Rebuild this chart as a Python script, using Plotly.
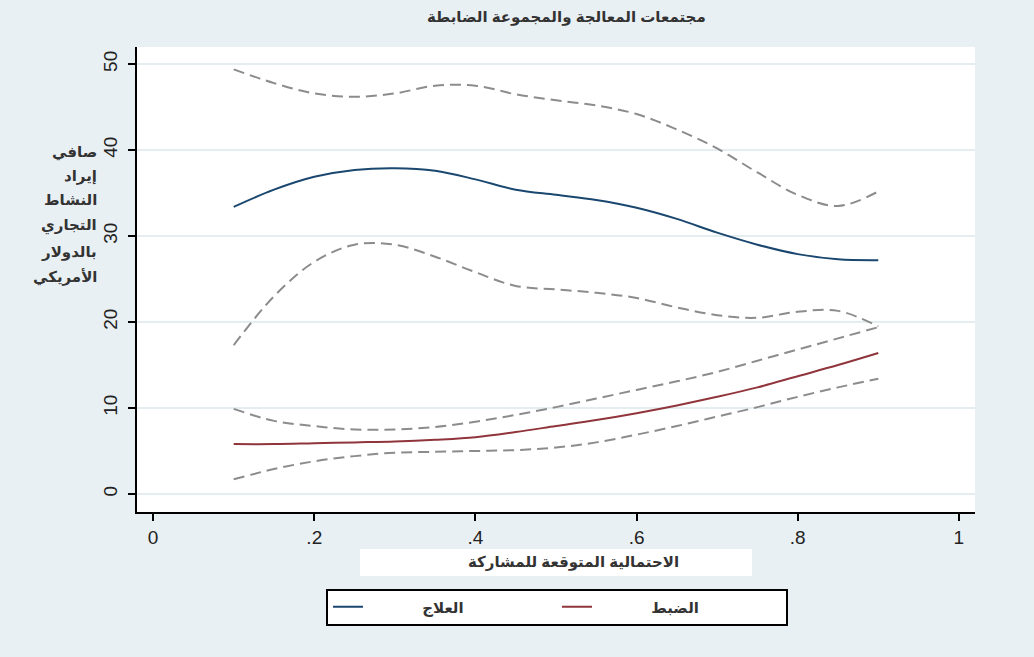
import plotly.graph_objects as go

# ---- data ----
x = [0.10, 0.15, 0.20, 0.25, 0.30, 0.35, 0.40, 0.45, 0.50, 0.55, 0.60, 0.65, 0.70, 0.75, 0.80, 0.85, 0.90]
treat = [33.4, 35.4, 36.9, 37.7, 37.9, 37.6, 36.6, 35.4, 34.8, 34.2, 33.3, 32.0, 30.4, 29.0, 27.9, 27.3, 27.2]
treat_hi = [49.4, 47.8, 46.6, 46.2, 46.6, 47.5, 47.5, 46.5, 45.8, 45.2, 44.2, 42.4, 40.2, 37.4, 34.8, 33.5, 35.2]
treat_lo = [17.3, 23.0, 27.0, 29.0, 29.0, 27.6, 25.8, 24.2, 23.8, 23.4, 22.8, 21.7, 20.8, 20.5, 21.2, 21.3, 19.5]
ctrl = [5.8, 5.8, 5.9, 6.0, 6.1, 6.3, 6.6, 7.2, 7.9, 8.6, 9.4, 10.3, 11.3, 12.4, 13.7, 15.0, 16.4]
ctrl_hi = [9.9, 8.5, 7.9, 7.5, 7.5, 7.8, 8.4, 9.2, 10.1, 11.1, 12.1, 13.1, 14.2, 15.5, 16.8, 18.1, 19.4]
ctrl_lo = [1.7, 2.9, 3.8, 4.4, 4.8, 4.9, 5.0, 5.1, 5.4, 6.0, 6.9, 7.9, 9.0, 10.1, 11.3, 12.4, 13.4]

x_ticks = [0, 0.2, 0.4, 0.6, 0.8, 1]
x_ticklabels = ["0", ".2", ".4", ".6", ".8", "1"]
y_ticks = [0, 10, 20, 30, 40, 50]

title = "مجتمعات المعالجة والمجموعة الضابطة"
x_title = "الاحتمالية المتوقعة للمشاركة"
y_title_lines = ["صافي", "إيراد", "النشاط", "التجاري", "بالدولار", "الأمريكي"]
name_treat = "العلاج"
name_ctrl = "الضبط"

FONT = "Liberation Sans, Arial, DejaVu Sans, sans-serif"
BG = "#e9f0f3"
GRID = "#e4edf0"
BLUE = "#1a476f"
RED = "#90353b"
GRAY = "#8c8c8c"

fig = go.Figure()

ci_style = dict(color=GRAY, width=2, dash="11px,6px")
for ys in (treat_hi, treat_lo, ctrl_hi, ctrl_lo):
    fig.add_trace(go.Scatter(x=x, y=ys, mode="lines", line=dict(shape="spline", **ci_style),
                             showlegend=False, hoverinfo="skip"))

pad = "\u00a0" * 13
fig.add_trace(go.Scatter(x=x, y=treat, mode="lines", name=pad + name_treat,
                         line=dict(color=BLUE, width=2, shape="spline")))
fig.add_trace(go.Scatter(x=x, y=ctrl, mode="lines", name=pad + name_ctrl,
                         line=dict(color=RED, width=2, shape="spline")))

L, R, T, B = 137, 59, 47, 145
W, H = 1034, 657
pw, ph = W - L - R, H - T - B

fig.update_layout(
    width=W, height=H,
    margin=dict(l=L, r=R, t=T, b=B),
    paper_bgcolor=BG, plot_bgcolor="white",
    font=dict(family=FONT, color="#222"),
    showlegend=True,
    legend=dict(
        orientation="h",
        x=(557 - L) / pw, xanchor="center",
        y=(H - B - 607) / ph, yanchor="middle",
        bgcolor="white", bordercolor="black", borderwidth=2,
        font=dict(size=15, weight="bold", color="#333"),
        entrywidth=184, entrywidthmode="pixels",
        traceorder="normal",
    ),
    xaxis=dict(
        range=[-0.02, 1.02], tickvals=x_ticks, ticktext=x_ticklabels,
        showgrid=False, zeroline=False,
        showline=True, linecolor="black", linewidth=1.5,
        ticks="outside", ticklen=7, tickcolor="black", tickwidth=1.5,
        tickfont=dict(size=19, color="#222"),
    ),
    yaxis=dict(
        range=[-2.1, 52.0], tickvals=y_ticks,
        showgrid=True, gridcolor=GRID, gridwidth=1.5, zeroline=False,
        showline=True, linecolor="black", linewidth=1.5,
        ticks="outside", ticklen=7, tickcolor="black", tickwidth=1.5,
        tickangle=-90, tickfont=dict(size=19, color="#222"),
        ticklabelstandoff=4,
    ),
)

# title
fig.add_annotation(text="<b>" + title + "</b>", xref="paper", yref="paper",
                   x=(566 - L) / pw, y=(H - B - 17) / ph, xanchor="center", yanchor="middle",
                   showarrow=False, font=dict(size=15, color="#333"))

# x axis title: white box plus text
fig.add_shape(type="rect", xref="paper", yref="paper",
              x0=(360 - L) / pw, x1=(752 - L) / pw,
              y0=(H - B - 576) / ph, y1=(H - B - 549) / ph,
              fillcolor="white", line=dict(width=0), layer="below")
fig.add_annotation(text="<b>" + x_title + "</b>", xref="paper", yref="paper",
                   x=(573 - L) / pw, y=(H - B - 562) / ph, xanchor="center", yanchor="middle",
                   showarrow=False, font=dict(size=15, color="#333"))

# y axis title lines
y_line_pos = [152, 176, 200, 225, 252, 277]
for txt, yp in zip(y_title_lines, y_line_pos):
    fig.add_annotation(text="<b>" + txt + "</b>", xref="paper", yref="paper",
                       x=(99 - L) / pw, y=(H - B - yp) / ph, xanchor="right", yanchor="middle",
                       showarrow=False, font=dict(size=15, color="#333"))

fig.write_html("out.html")
